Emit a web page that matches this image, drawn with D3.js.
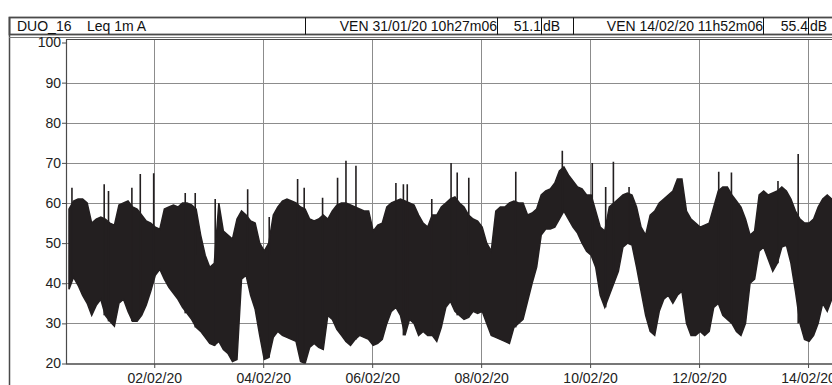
<!DOCTYPE html>
<html>
<head>
<meta charset="utf-8">
<script src="https://cdn.jsdelivr.net/npm/d3@7"></script>
<style>
  body { margin: 0; background: #fff; }
  svg { display: block; font-family: "Liberation Sans", Arial, sans-serif; }
</style>
</head>
<body>
<svg id="chart" width="832" height="385"></svg>
<script>
// header texts
const station = "DUO_16";
const metric = "Leq 1m A";
const startLabel = "VEN 31/01/20 10h27m06";
const startLevel = "51.1";
const endLabel = "VEN 14/02/20 11h52m06";
const endLevel = "55.4";
const unit = "dB";

// axes
const yTicks = [20, 30, 40, 50, 60, 70, 80, 90, 100];
const xTickDates = ["2020-02-02", "2020-02-04", "2020-02-06", "2020-02-08", "2020-02-10", "2020-02-12", "2020-02-14"];

// measurement period
const startTime = new Date(2020, 0, 31, 10, 27, 6);
const endTime = new Date(2020, 1, 14, 11, 52, 6);
const stepHours = 2;

// envelope of the 1 minute Leq trace, one value every 2 hours (dB)
const upper = [58.5, 60.5, 61, 61, 60, 55, 56, 56.5, 56, 55,
  54.5, 59.5, 60, 60.5, 59, 58.5, 57, 55.5, 55, 54,
  53.5, 58.5, 59, 59.5, 59, 60, 60, 59.5, 58.5, 52,
  47, 44, 45, 60, 53, 52, 51, 56, 58, 57,
  55.5, 55, 50, 48, 50, 57, 59, 60.5, 61, 60.5,
  60, 59, 58.5, 56, 55.5, 56, 57, 56, 58, 59.5,
  60, 60, 59.5, 59, 58.5, 58, 58, 53, 54.5, 55,
  59, 60, 60.5, 61, 60.5, 60, 59.5, 57, 55, 54,
  57, 57, 59, 60, 61, 61.5, 60, 59, 57, 56,
  55.5, 54, 50, 48, 58, 59, 59, 60, 60.5, 60,
  60, 57, 57.5, 58.5, 62, 63, 63.5, 65, 68, 69,
  67, 65.5, 64, 63.5, 62, 62, 58, 54, 53, 59,
  60, 61, 62, 62.5, 62, 59, 54, 52, 57, 58,
  60, 61, 62, 63, 66, 66, 58, 56, 55, 54,
  54.5, 55, 59, 63, 64, 64, 62, 60.5, 59, 56,
  52, 53, 62, 63, 62, 62.5, 63, 64, 63, 61,
  58, 56, 55, 55, 56, 59, 61, 62, 61, 60];
const lower = [38.5, 41.5, 39.5, 37, 35, 32, 34.5, 36, 32, 30.5,
  29.3, 35, 36, 33, 30.5, 30.5, 32, 34.5, 38, 42,
  43.5, 41, 39, 37.5, 36, 34, 32.5, 31, 29, 28,
  26.5, 25, 24.5, 25.5, 23.5, 22.5, 20.5, 21, 41, 42,
  37, 33.5, 27, 21, 21.5, 26.5, 28, 27, 26.5, 26,
  25.5, 20.5, 20, 24, 25, 24, 23.5, 32, 31, 28.5,
  27, 25.5, 24.5, 26, 27, 26.5, 26, 24.5, 25, 26,
  30, 33, 34, 32, 27, 31, 30, 27, 28, 27,
  27, 25.5, 29, 34, 35.5, 33, 32, 31, 31.5, 33,
  32.5, 33, 30, 27, 26.5, 26, 25.5, 25, 29, 30,
  31, 35.5, 40, 44, 52, 53.5, 53.5, 54, 56, 58,
  56, 54, 52.5, 50, 48, 47, 44, 37, 34, 37,
  40, 43, 49, 50, 49.5, 44, 38, 32, 28, 27,
  33, 36, 37, 35, 37, 38, 30, 27, 27, 28,
  27, 28, 34, 35, 32, 31, 30, 28, 27, 30,
  40, 41, 48, 49, 46, 43, 45, 49, 49.5, 45,
  38, 30, 26, 25.5, 27, 30, 35, 33, 36, 35];

// isolated peaks: hours after start, level in dB
const spikeHours = [1.3, 15.5, 17.4, 27.7, 31.4, 37.3, 51.2, 55.6, 64.4, 78.7,
  88.2, 100.7, 103.6, 111.7, 118.3, 122.0, 126.4, 144.0, 147.3, 149.0,
  159.8, 168.3, 171.0, 176.1, 196.8, 217.3, 230.5, 236.4, 239.8, 246.7,
  286.2, 291.8, 312.3, 321.2];
const spikeValues = [63.8, 64.7, 63, 63.8, 67.2, 67.4, 62.5, 62.5, 61, 63.4,
  56.5, 66, 63.8, 61.3, 66.3, 70.5, 69.3, 65, 64.7, 64.7,
  61, 70, 67.6, 66.3, 67.8, 73, 70, 64, 70.3, 64,
  67.8, 67.6, 65.5, 72.2];

const hour = 3600 * 1000;
const trace = upper.map((u, i) => ({
  t: new Date(startTime.getTime() + i * stepHours * hour),
  hi: u,
  lo: lower[i]
}));

const svg = d3.select("#chart");
const ink = "#231f20";
const frameCol = "#4a4a4a";
const gridCol = "#8c8c8c";

const plot = {left: 66, top: 39.5, bottom: 364, right: 900};

const x = d3.scaleTime()
  .domain([startTime, endTime])
  .range([69, 835]);
const y = d3.scaleLinear()
  .domain([20, 100])
  .range([363.5, 42.5]);

/** outer frame and header */
svg.append("line")
  .attr("x1", 9.5).attr("x2", 9.5).attr("y1", 17).attr("y2", 385)
  .attr("stroke", frameCol).attr("stroke-width", 1.5);
svg.append("rect")
  .attr("x", 9.5).attr("y", 17.5).attr("width", 900).attr("height", 17)
  .attr("fill", "none").attr("stroke", frameCol).attr("stroke-width", 1.8);
svg.append("line")
  .attr("x1", 9).attr("x2", 832).attr("y1", 37.5).attr("y2", 37.5)
  .attr("stroke", "#777").attr("stroke-width", 1);

[305, 497, 541, 573, 763, 808].forEach(function(d) {
  svg.append("line")
    .attr("x1", d + 0.5).attr("x2", d + 0.5).attr("y1", 17.5).attr("y2", 34.5)
    .attr("stroke", "#111").attr("stroke-width", 1);
});

const headerText = [
  {txt: station, x: 17, anchor: "start"},
  {txt: metric, x: 87, anchor: "start"},
  {txt: startLabel, x: 497, anchor: "end"},
  {txt: startLevel, x: 541, anchor: "end"},
  {txt: unit, x: 543, anchor: "start"},
  {txt: endLabel, x: 763, anchor: "end"},
  {txt: endLevel, x: 808, anchor: "end"},
  {txt: unit, x: 810, anchor: "start"}
];
svg.selectAll(".hdr").data(headerText).join("text")
  .attr("class", "hdr")
  .attr("x", d => d.x)
  .attr("y", 30.5)
  .attr("text-anchor", d => d.anchor)
  .attr("font-size", 14)
  .attr("fill", "#111")
  .text(d => d.txt);

/** grid */
const g = svg.append("g");
g.selectAll(".hgrid").data(yTicks.filter(v => v > 20 && v < 100)).join("line")
  .attr("class", "hgrid")
  .attr("x1", plot.left).attr("x2", plot.right)
  .attr("y1", d => Math.round(y(d)) + 0.5).attr("y2", d => Math.round(y(d)) + 0.5)
  .attr("stroke", gridCol).attr("stroke-width", 1);
const tickDates = xTickDates.map(s => d3.timeParse("%Y-%m-%d")(s));
g.selectAll(".vgrid").data(tickDates).join("line")
  .attr("class", "vgrid")
  .attr("x1", d => Math.round(x(d)) + 0.5).attr("x2", d => Math.round(x(d)) + 0.5)
  .attr("y1", plot.top).attr("y2", plot.bottom)
  .attr("stroke", gridCol).attr("stroke-width", 1);

/** trace */
svg.append("clipPath").attr("id", "clip")
  .append("rect").attr("x", plot.left + 1).attr("y", plot.top).attr("width", 900).attr("height", plot.bottom - plot.top);

const band = svg.append("g").attr("clip-path", "url(#clip)");
band.append("path")
  .datum(trace)
  .attr("fill", ink)
  .attr("stroke", ink)
  .attr("stroke-width", 1.5)
  .attr("stroke-linejoin", "miter")
  .attr("d", d3.area()
    .x(d => x(d.t))
    .y0(d => y(d.lo))
    .y1(d => y(d.hi)));

const spikes = spikeHours.map((h, i) => {
  const k = Math.min(trace.length - 1, Math.round(h / stepHours));
  return {t: new Date(startTime.getTime() + h * hour), v: spikeValues[i], base: trace[k].lo};
});
band.selectAll(".spike").data(spikes).join("line")
  .attr("class", "spike")
  .attr("x1", d => x(d.t)).attr("x2", d => x(d.t))
  .attr("y1", d => y(d.base)).attr("y2", d => y(d.v))
  .attr("stroke", ink).attr("stroke-width", 1.6);

/** plot frame */
svg.append("line")
  .attr("x1", plot.left).attr("x2", plot.right).attr("y1", plot.top).attr("y2", plot.top)
  .attr("stroke", frameCol).attr("stroke-width", 1);
svg.append("line")
  .attr("x1", plot.left + 0.5).attr("x2", plot.left + 0.5).attr("y1", plot.top).attr("y2", plot.bottom)
  .attr("stroke", frameCol).attr("stroke-width", 1.2);
svg.append("line")
  .attr("x1", plot.left).attr("x2", plot.right).attr("y1", plot.bottom).attr("y2", plot.bottom)
  .attr("stroke", frameCol).attr("stroke-width", 1.5);

/** axes */
const yAxis = svg.append("g")
  .attr("transform", `translate(${plot.left},0)`)
  .call(d3.axisLeft(y).tickValues(yTicks).tickFormat(d3.format("d")).tickSize(4).tickPadding(1));
yAxis.select(".domain").remove();
yAxis.selectAll("line").attr("stroke", frameCol);
yAxis.selectAll("text").attr("font-size", 14).attr("fill", "#222")
  .attr("font-family", "'Liberation Sans', Arial, sans-serif");

const xAxis = svg.append("g")
  .attr("transform", `translate(0,${plot.bottom})`)
  .call(d3.axisBottom(x).tickValues(tickDates).tickFormat(d3.timeFormat("%d/%m/%y")).tickSize(4).tickPadding(5));
xAxis.select(".domain").remove();
xAxis.selectAll("line").attr("stroke", frameCol);
xAxis.selectAll("text").attr("font-size", 14).attr("fill", "#222")
  .attr("font-family", "'Liberation Sans', Arial, sans-serif");
</script>
</body>
</html>
